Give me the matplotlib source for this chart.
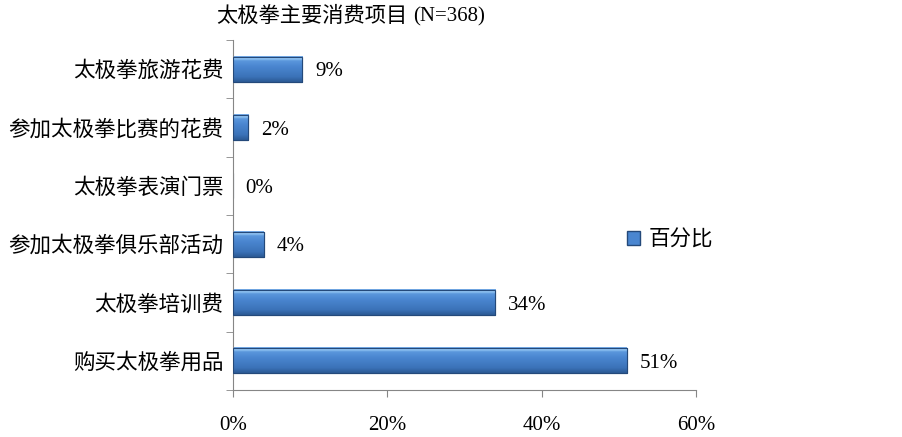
import numpy as np
import matplotlib.pyplot as plt
from matplotlib.patches import Patch
from matplotlib.colors import LinearSegmentedColormap

plt.rcParams['font.family'] = ['Liberation Serif', 'Noto Sans CJK SC', 'DejaVu Sans']

# data (top to bottom as in the picture)
items = ['太极拳旅游花费', '参加太极拳比赛的花费', '太极拳表演门票',
         '参加太极拳俱乐部活动', '太极拳培训费', '购买太极拳用品']
pct = [9, 2, 0, 4, 34, 51]
xticks = [0, 20, 40, 60]
title_cn = '太极拳主要消费项目'
title_n = '(N=368)'

fig = plt.figure(figsize=(9.03, 4.37), dpi=100)
ax = fig.add_axes([0.258, 0.1076, 0.513, 0.8009])

y = np.arange(len(items))
bars = ax.barh(y, pct, height=0.43, color='#4A86D0', edgecolor='#24497A',
               linewidth=0.8, zorder=2)

# gradient fill on each bar (light strip at top, darker bottom)
cmap = LinearSegmentedColormap.from_list(
    'bar', [(0, '#2C5A95'), (0.2, '#3B72B8'), (0.6, '#4A86D0'),
            (0.82, '#5A96DC'), (0.9, '#94C6F3'), (1, '#6FA6E4')])
grad = np.linspace(0, 1, 100).reshape(-1, 1)
for b in bars:
    if b.get_width() <= 0:
        continue
    x0, y0 = b.get_x(), b.get_y()
    # y axis is inverted, so flip the gradient
    ax.imshow(grad[::-1], cmap=cmap, aspect='auto', origin='lower',
              extent=[x0, x0 + b.get_width(), y0, y0 + b.get_height()],
              zorder=2.5, interpolation='bilinear')
    ax.add_patch(plt.Rectangle((x0, y0), b.get_width(), b.get_height(),
                               fill=False, edgecolor='#24497A', lw=0.8, zorder=3))

for yi, v in zip(y, pct):
    ax.annotate(f'{v}%', (v, yi), xytext=(9, -2), textcoords='offset points',
                va='center', ha='left', fontsize=15)

ax.set_xlim(0, 60)
ax.set_ylim(len(items) - 0.5, -0.5)
ax.set_xticks(xticks)
ax.set_xticklabels([f'{t}%' for t in xticks], fontsize=15)
ax.set_yticks(y)
ax.set_yticklabels(items, fontsize=15.5, fontweight='light')
ax.set_yticks(np.arange(len(items) + 1) - 0.5, minor=True)
ax.tick_params(axis='y', which='major', length=0, pad=7)
ax.tick_params(axis='y', which='minor', length=5, color='#868686')
ax.tick_params(axis='x', length=5, color='#868686', pad=14)

for s in ['top', 'right']:
    ax.spines[s].set_visible(False)
for s in ['left', 'bottom']:
    ax.spines[s].set_color('#868686')

fig.text(0.239, 0.962, title_cn, fontsize=15.3, fontweight='light', va='center', ha='left')
fig.text(0.457, 0.962, title_n, fontsize=15, va='center', ha='left')

handle = Patch(facecolor='#4A86D0', edgecolor='#24497A', label='百分比')
fig.legend(handles=[handle], loc='center left', bbox_to_anchor=(0.694, 0.45),
           frameon=False, prop={'size': 15.5, 'weight': 'light'},
           handlelength=0.6, handleheight=0.6, handletextpad=0.4,
           borderpad=0, borderaxespad=0)

fig.savefig('out.png', dpi=100)
